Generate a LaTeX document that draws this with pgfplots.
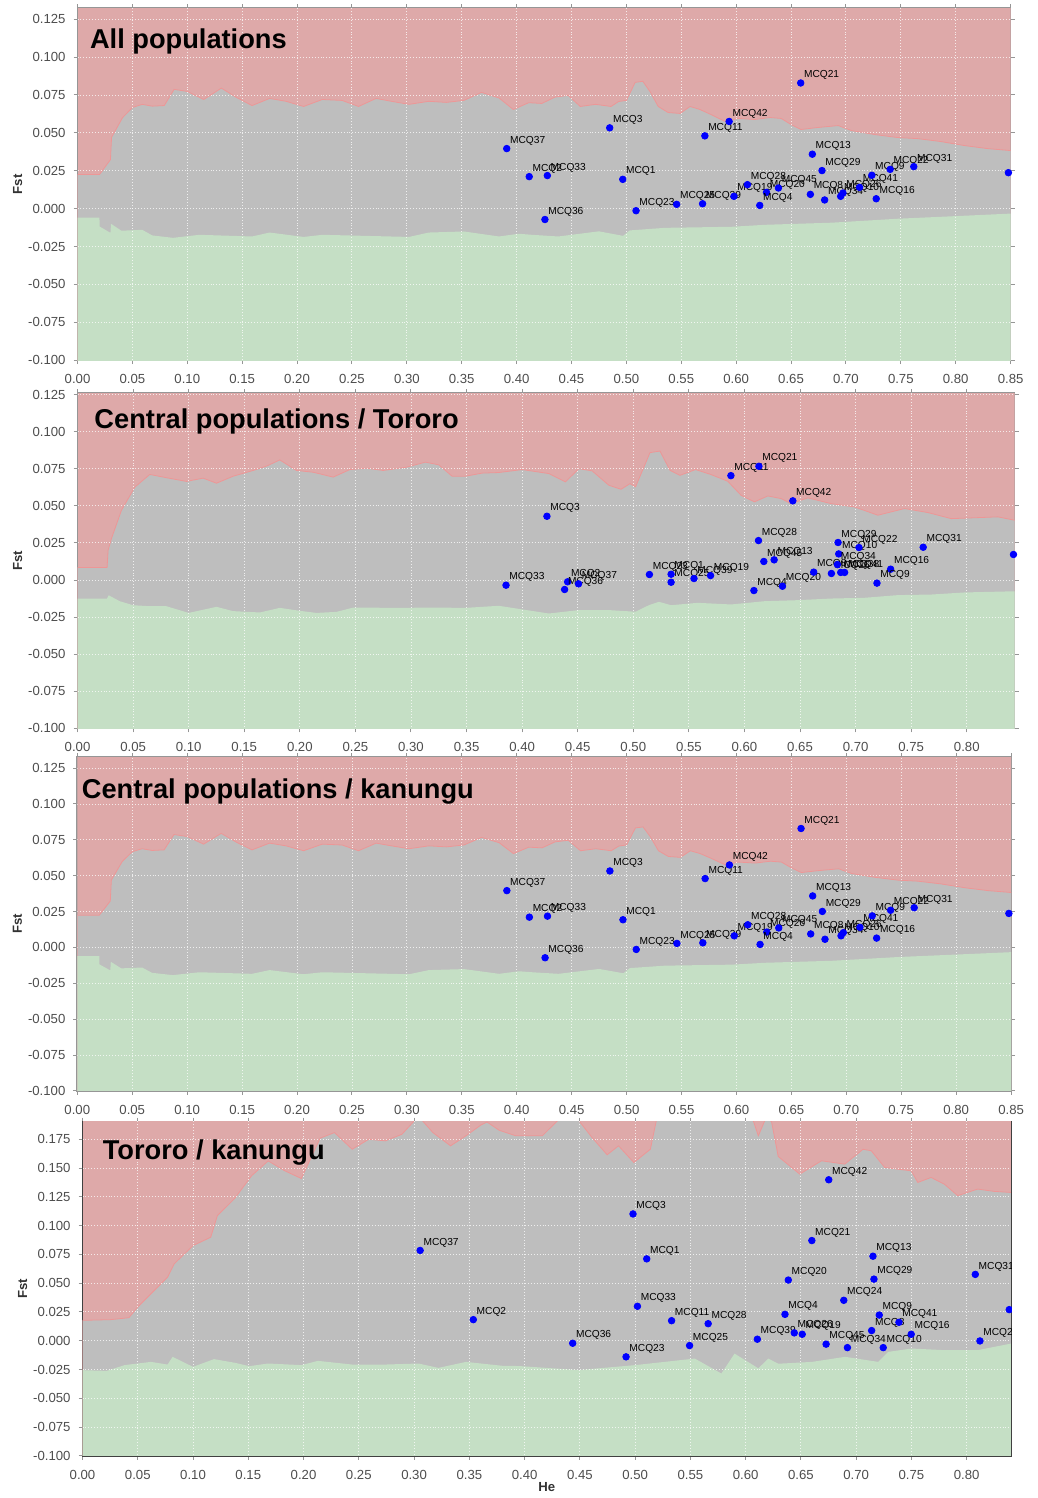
\documentclass[border=0pt]{standalone}
\usepackage{fontspec}
\setmainfont{Liberation Sans}
\usepackage{pgfplots}
\usepackage{pgfplotstable}
\pgfplotsset{compat=1.18}
\definecolor{rfill}{RGB}{222,169,169}
\definecolor{gfill}{RGB}{190,190,190}
\definecolor{grfill}{RGB}{197,223,197}
\definecolor{rline}{RGB}{238,150,150}
\definecolor{ticklab}{RGB}{77,77,77}
\definecolor{framec}{RGB}{150,150,150}
\definecolor{framed}{RGB}{64,64,64}
\definecolor{labc}{RGB}{50,50,50}

% ---------------- Panel 1 / 3 (All populations; Central / kanungu)
\pgfplotstableread{
x y
0 -0.3
0 0.0225
0.020 0.0225
0.030 0.0323
0.031 0.047
0.041 0.060
0.050 0.0667
0.059 0.0688
0.068 0.0676
0.079 0.068
0.088 0.0787
0.100 0.0773
0.115 0.072
0.131 0.0795
0.145 0.0733
0.159 0.068
0.175 0.0727
0.190 0.0708
0.206 0.0674
0.223 0.072
0.241 0.0714
0.256 0.0674
0.272 0.0727
0.286 0.0708
0.302 0.0688
0.320 0.0708
0.336 0.0701
0.352 0.0714
0.368 0.0767
0.384 0.0730
0.397 0.0654
0.411 0.0699
0.423 0.0694
0.435 0.0736
0.447 0.0747
0.458 0.0674
0.472 0.0688
0.486 0.0674
0.493 0.0707
0.500 0.0714
0.508 0.0833
0.515 0.0840
0.522 0.0767
0.529 0.0674
0.538 0.0634
0.549 0.0628
0.558 0.0674
0.567 0.0654
0.577 0.0621
0.590 0.0575
0.602 0.0595
0.617 0.0588
0.631 0.0601
0.641 0.0595
0.650 0.0555
0.659 0.0522
0.674 0.0535
0.693 0.0548
0.705 0.0515
0.726 0.0489
0.747 0.0469
0.765 0.0462
0.786 0.0443
0.808 0.0416
0.829 0.0396
0.850 0.0383
0.900 0.0380
0.900 -0.3
}\upA
\pgfplotstableread{
x y
0 -0.3
0 -0.0060
0.020 -0.0060
0.0201 -0.0118
0.030 -0.0160
0.0305 -0.0100
0.040 -0.0146
0.059 -0.0140
0.068 -0.0177
0.087 -0.0193
0.111 -0.0173
0.159 -0.0184
0.175 -0.0158
0.206 -0.0187
0.223 -0.0173
0.302 -0.0187
0.320 -0.0158
0.352 -0.0151
0.384 -0.0184
0.402 -0.0166
0.414 -0.0173
0.438 -0.0184
0.475 -0.0150
0.497 -0.0180
0.503 -0.0144
0.535 -0.0127
0.596 -0.0120
0.626 -0.0107
0.687 -0.0093
0.747 -0.0067
0.808 -0.0047
0.850 -0.0033
0.900 -0.0030
0.900 -0.3
}\loA
\pgfplotstableread{
x y label
0.3910 0.0396 MCQ37
0.4115 0.0211 MCQ2
0.4280 0.0218 MCQ33
0.4258 -0.0072 MCQ36
0.4848 0.0533 MCQ3
0.4967 0.0193 MCQ1
0.5088 -0.0014 MCQ23
0.5458 0.0028 MCQ25
0.5694 0.0032 MCQ39
0.5980 0.0081 MCQ19
0.5715 0.0480 MCQ11
0.5936 0.0575 MCQ42
0.6103 0.0158 MCQ28
0.6276 0.0107 MCQ20
0.6385 0.0136 MCQ45
0.6215 0.0021 MCQ4
0.6588 0.0829 MCQ21
0.6694 0.0359 MCQ13
0.6782 0.0251 MCQ29
0.6676 0.0094 MCQ8
0.6806 0.0057 MCQ34
0.6952 0.0081 MCQ10
0.6973 0.0103 MCQ26
0.7124 0.0140 MCQ41
0.7236 0.0220 MCQ9
0.7403 0.0259 MCQ22
0.7618 0.0277 MCQ31
0.7276 0.0065 MCQ16
}\ptA

% ---------------- Panel 2 (Central / Tororo)
\pgfplotstableread{
x y
0 -0.3
0 0.0084
0.0266 0.0084
0.0275 0.0200
0.0305 0.0279
0.0395 0.0470
0.0515 0.0626
0.065 0.0712
0.080 0.0690
0.098 0.0665
0.113 0.0687
0.125 0.0653
0.140 0.0700
0.158 0.0739
0.170 0.0768
0.182 0.0810
0.197 0.0739
0.212 0.0727
0.230 0.0694
0.245 0.0745
0.260 0.0754
0.275 0.0739
0.296 0.0761
0.313 0.0795
0.325 0.0777
0.337 0.0700
0.349 0.0700
0.364 0.0721
0.379 0.0725
0.400 0.0745
0.424 0.0718
0.439 0.0662
0.451 0.0751
0.463 0.0736
0.478 0.0639
0.489 0.0612
0.497 0.0650
0.502 0.0628
0.515 0.0859
0.524 0.0870
0.533 0.0740
0.542 0.0706
0.556 0.0745
0.570 0.0711
0.585 0.0666
0.597 0.0571
0.609 0.0527
0.621 0.0567
0.633 0.0549
0.642 0.0515
0.657 0.0554
0.678 0.0515
0.699 0.0493
0.720 0.0437
0.744 0.0482
0.765 0.0455
0.786 0.0414
0.804 0.0419
0.828 0.0426
0.843 0.0403
0.900 0.0400
0.900 -0.3
}\upB
\pgfplotstableread{
x y
0 -0.3
0 -0.0125
0.0266 -0.0125
0.028 -0.0103
0.038 -0.0143
0.050 -0.0170
0.065 -0.0177
0.080 -0.0177
0.100 -0.0222
0.125 -0.0181
0.140 -0.0210
0.164 -0.0219
0.182 -0.0188
0.200 -0.0208
0.215 -0.0222
0.233 -0.0215
0.248 -0.0186
0.290 -0.0188
0.320 -0.0186
0.349 -0.0188
0.379 -0.0174
0.424 -0.0226
0.451 -0.0203
0.478 -0.0203
0.502 -0.0214
0.514 -0.0170
0.523 -0.0147
0.534 -0.0170
0.558 -0.0154
0.588 -0.0165
0.618 -0.0143
0.648 -0.0136
0.678 -0.0125
0.708 -0.0120
0.738 -0.0102
0.768 -0.0098
0.798 -0.0084
0.843 -0.0076
0.900 -0.0075
0.900 -0.3
}\loB
\pgfplotstableread{
x y label
0.3855 -0.0035 MCQ33
0.4409 -0.0012 MCQ2
0.4382 -0.0064 MCQ36
0.4507 -0.0026 MCQ37
0.4223 0.0430 MCQ3
0.5145 0.0037 MCQ23
0.5340 0.0039 MCQ1
0.5340 -0.0015 MCQ25
0.5546 0.0010 MCQ39
0.5695 0.0030 MCQ19
0.5878 0.0704 MCQ11
0.6130 0.0767 MCQ21
0.6435 0.0534 MCQ42
0.6126 0.0266 MCQ28
0.6174 0.0125 MCQ45
0.6267 0.0136 MCQ13
0.6085 -0.0071 MCQ4
0.6342 -0.0042 MCQ20
0.6623 0.0053 MCQ8
0.6782 0.0044 MCQ26
0.6866 0.0051 MCQ38
0.6901 0.0051 MCQ41
0.6842 0.0253 MCQ29
0.6848 0.0176 MCQ10
0.6836 0.0104 MCQ34
0.7030 0.0219 MCQ22
0.7608 0.0221 MCQ31
0.7315 0.0073 MCQ16
0.7192 -0.0021 MCQ9
}\ptB

% ---------------- Panel 4 (Tororo / kanungu)
\pgfplotstableread{
x y
0 -0.3
0 0.0177
0.0255 0.0183
0.042 0.0200
0.050 0.0293
0.059 0.0379
0.077 0.0552
0.083 0.0668
0.100 0.0826
0.116 0.0899
0.122 0.1086
0.138 0.1239
0.153 0.1433
0.168 0.1562
0.183 0.1476
0.198 0.1409
0.215 0.1759
0.228 0.1808
0.244 0.1663
0.259 0.1750
0.274 0.1736
0.289 0.1793
0.304 0.1950
0.317 0.1808
0.333 0.1693
0.347 0.1780
0.3605 0.1874
0.366 0.1900
0.377 0.1828
0.392 0.1780
0.416 0.1780
0.434 0.1950
0.446 0.1950
0.461 0.1765
0.4747 0.1615
0.485 0.1693
0.4988 0.1548
0.5138 0.1663
0.520 0.1950
0.6055 0.1950
0.6115 0.1780
0.619 0.1950
0.6235 0.1900
0.6295 0.1600
0.649 0.1447
0.6686 0.1563
0.6897 0.1534
0.7062 0.1663
0.7137 0.1650
0.7258 0.1505
0.7378 0.1490
0.7498 0.1476
0.7558 0.1375
0.7678 0.1418
0.7798 0.1360
0.7919 0.1260
0.810 0.1317
0.825 0.1297
0.840 0.1288
0.900 0.1280
0.900 -0.3
}\upD
\pgfplotstableread{
x y
0 -0.3
0 -0.0256
0.022 -0.0262
0.038 -0.0212
0.062 -0.0184
0.077 -0.0207
0.0815 -0.0140
0.100 -0.0227
0.119 -0.0160
0.138 -0.0192
0.151 -0.0221
0.168 -0.0198
0.198 -0.0212
0.213 -0.0175
0.244 -0.0207
0.274 -0.0207
0.304 -0.0198
0.322 -0.0236
0.347 -0.0184
0.380 -0.0218
0.395 -0.0220
0.449 -0.0255
0.500 -0.0212
0.554 -0.0155
0.578 -0.0285
0.590 -0.0112
0.6115 -0.0240
0.6205 -0.0155
0.6295 -0.0200
0.660 -0.0184
0.690 -0.0140
0.720 -0.0184
0.729 -0.0097
0.750 -0.0068
0.780 -0.0082
0.810 -0.0082
0.840 -0.0025
0.900 -0.0020
0.900 -0.3
}\loD
\pgfplotstableread{
x y label
0.3055 0.0784 MCQ37
0.3536 0.0183 MCQ2
0.4435 -0.0022 MCQ36
0.4981 0.1101 MCQ3
0.5105 0.0711 MCQ1
0.5021 0.0299 MCQ33
0.4918 -0.0140 MCQ23
0.5330 0.0174 MCQ11
0.5661 0.0148 MCQ28
0.5493 -0.0042 MCQ25
0.6106 0.0013 MCQ39
0.6440 0.0068 MCQ26
0.6512 0.0056 MCQ19
0.6599 0.0870 MCQ21
0.6752 0.1398 MCQ42
0.6386 0.0527 MCQ20
0.6356 0.0229 MCQ4
0.6888 0.0351 MCQ24
0.7152 0.0734 MCQ13
0.7161 0.0535 MCQ29
0.6728 -0.0030 MCQ45
0.6921 -0.0060 MCQ34
0.7209 0.0223 MCQ9
0.7140 0.0088 MCQ8
0.7387 0.0160 MCQ41
0.7245 -0.0060 MCQ10
0.7498 0.0056 MCQ16
0.8078 0.0576 MCQ31
0.8120 -0.0002 MCQ22
}\ptD

\pgfplotsset{
  panel/.style={
    scale only axis,
    xmin=0, ymin=-0.1,
    scaled ticks=false,
    tick align=outside, major tick length=2pt,
    tick style={framec, line width=0.5pt},
    axis line style={framec, line width=0.9pt},
    ticklabel style={font=\fontsize{6.6}{7.5}\selectfont, text=ticklab},
    /pgf/number format/assume math mode=true,
    xticklabel style={/pgf/number format/.cd, fixed, fixed zerofill, precision=2, /tikz/.cd, inner sep=0pt, yshift=-5pt},
    yticklabel style={/pgf/number format/.cd, fixed, fixed zerofill, precision=3, /tikz/.cd, inner sep=0pt, xshift=-3.8pt},
    ylabel={Fst},
    every axis y label/.style={at={(axis description cs:0,0.5)}, xshift=-30pt, rotate=90, anchor=center, font=\bfseries\fontsize{6.6}{7.5}\selectfont, text=labc},
  },
  bgR/.style={fill=rfill, draw=none, forget plot},
  bgG/.style={fill=gfill, draw=rline, line width=0.4pt, forget plot},
  bgL/.style={fill=grfill, draw=none, forget plot},
  gridl/.style={white, densely dotted, line width=0.45pt, opacity=0.75, forget plot},
  pts/.style={only marks, mark=*, mark size=1.65pt, color=blue, nodes near coords, point meta=explicit symbolic,
    every node near coord/.append style={font=\fontsize{5.1}{6}\selectfont, text=black, anchor=base west, inner sep=0pt, xshift=1.5pt, yshift=2.7pt}},
  edgept/.style={only marks, mark=*, mark size=1.65pt, color=blue},
}
\tikzset{ttl/.style={anchor=base west, inner sep=0pt, font=\bfseries\fontsize{13.65}{16}\selectfont, text=black}}

\begin{document}
\begin{tikzpicture}
\path (0,0) rectangle (520pt,-749pt);

% Panel 1
\begin{axis}[panel, at={(38.85pt,-4.15pt)}, anchor=north west,
  width=467.65pt, height=176.35pt, xmax=0.85, ymax=0.1322,
  xtick={0,0.05,0.10,0.15,0.20,0.25,0.30,0.35,0.40,0.45,0.50,0.55,0.60,0.65,0.70,0.75,0.80,0.85},
  ytick={-0.1,-0.075,-0.05,-0.025,0,0.025,0.05,0.075,0.1,0.125}]
\addplot[bgR] coordinates {(0,-0.3) (0,0.3) (0.9,0.3) (0.9,-0.3)};
\addplot[bgG] table {\upA};
\addplot[bgL] table {\loA};
\pgfplotsinvokeforeach{0.05,0.10,0.15,0.20,0.25,0.30,0.35,0.40,0.45,0.50,0.55,0.60,0.65,0.70,0.75,0.80}{\addplot[gridl] coordinates {(#1,-0.3) (#1,0.3)};}
\pgfplotsinvokeforeach{-0.075,-0.05,-0.025,0,0.025,0.05,0.075,0.1,0.125}{\addplot[gridl] coordinates {(0,#1) (0.9,#1)};}
\addplot[pts] table[meta=label] {\ptA};
\addplot[edgept] coordinates {(0.848,0.0237)};
\node[ttl] at (axis description cs:0.013,0.8866) {All populations};
\end{axis}

% Panel 2
\begin{axis}[panel, at={(38.85pt,-197pt)}, anchor=north west,
  width=469.65pt, height=168pt, xmax=0.843, ymax=0.1261,
  xtick={0,0.05,0.10,0.15,0.20,0.25,0.30,0.35,0.40,0.45,0.50,0.55,0.60,0.65,0.70,0.75,0.80},
  ytick={-0.1,-0.075,-0.05,-0.025,0,0.025,0.05,0.075,0.1,0.125}]
\addplot[bgR] coordinates {(0,-0.3) (0,0.3) (0.9,0.3) (0.9,-0.3)};
\addplot[bgG] table {\upB};
\addplot[bgL] table {\loB};
\pgfplotsinvokeforeach{0.05,0.10,0.15,0.20,0.25,0.30,0.35,0.40,0.45,0.50,0.55,0.60,0.65,0.70,0.75,0.80}{\addplot[gridl] coordinates {(#1,-0.3) (#1,0.3)};}
\pgfplotsinvokeforeach{-0.075,-0.05,-0.025,0,0.025,0.05,0.075,0.1,0.125}{\addplot[gridl] coordinates {(0,#1) (0.9,#1)};}
\addplot[pts] table[meta=label] {\ptB};
\addplot[edgept] coordinates {(0.842,0.0172)};
\node[ttl] at (axis description cs:0.0177,0.893) {Central populations / Tororo};
\end{axis}

% Panel 3
\begin{axis}[panel, at={(38.75pt,-379.5pt)}, anchor=north west,
  width=468pt, height=167.25pt, xmax=0.85, ymax=0.1326,
  xtick={0,0.05,0.10,0.15,0.20,0.25,0.30,0.35,0.40,0.45,0.50,0.55,0.60,0.65,0.70,0.75,0.80,0.85},
  ytick={-0.1,-0.075,-0.05,-0.025,0,0.025,0.05,0.075,0.1,0.125}]
\addplot[bgR] coordinates {(0,-0.3) (0,0.3) (0.9,0.3) (0.9,-0.3)};
\addplot[bgG] table {\upA};
\addplot[bgL] table {\loA};
\pgfplotsinvokeforeach{0.05,0.10,0.15,0.20,0.25,0.30,0.35,0.40,0.45,0.50,0.55,0.60,0.65,0.70,0.75,0.80}{\addplot[gridl] coordinates {(#1,-0.3) (#1,0.3)};}
\pgfplotsinvokeforeach{-0.075,-0.05,-0.025,0,0.025,0.05,0.075,0.1,0.125}{\addplot[gridl] coordinates {(0,#1) (0.9,#1)};}
\addplot[pts] table[meta=label] {\ptA};
\addplot[edgept] coordinates {(0.848,0.0237)};
\node[ttl] at (axis description cs:0.0045,0.8774) {Central populations / kanungu};
\end{axis}

% Panel 4
\begin{axis}[panel, at={(41.35pt,-562.15pt)}, anchor=north west,
  width=465.3pt, height=167.5pt, xmax=0.84, ymax=0.1903,
  axis line style={framed, line width=0.9pt},
  xtick={0,0.05,0.10,0.15,0.20,0.25,0.30,0.35,0.40,0.45,0.50,0.55,0.60,0.65,0.70,0.75,0.80},
  ytick={-0.1,-0.075,-0.05,-0.025,0,0.025,0.05,0.075,0.1,0.125,0.15,0.175},
  xlabel={He},
  every axis x label/.style={at={(axis description cs:0.5,0)}, yshift=-15.5pt, anchor=center, font=\bfseries\fontsize{6.6}{7.5}\selectfont, text=labc}]
\addplot[bgR] coordinates {(0,-0.3) (0,0.3) (0.9,0.3) (0.9,-0.3)};
\addplot[bgG] table {\upD};
\addplot[bgL] table {\loD};
\pgfplotsinvokeforeach{0.05,0.10,0.15,0.20,0.25,0.30,0.35,0.40,0.45,0.50,0.55,0.60,0.65,0.70,0.75,0.80}{\addplot[gridl] coordinates {(#1,-0.3) (#1,0.3)};}
\pgfplotsinvokeforeach{-0.075,-0.05,-0.025,0,0.025,0.05,0.075,0.1,0.125,0.15,0.175}{\addplot[gridl] coordinates {(0,#1) (0.9,#1)};}
\addplot[pts] table[meta=label] {\ptD};
\addplot[edgept] coordinates {(0.8385,0.027)};
\node[ttl] at (axis description cs:0.0215,0.8866) {Tororo / kanungu};
\end{axis}
% white margin right of panel 4 (labels there are cut by the frame in the reference)
\fill[white] (507.15pt,-561pt) rectangle (520pt,-731pt);
\end{tikzpicture}
\end{document}
